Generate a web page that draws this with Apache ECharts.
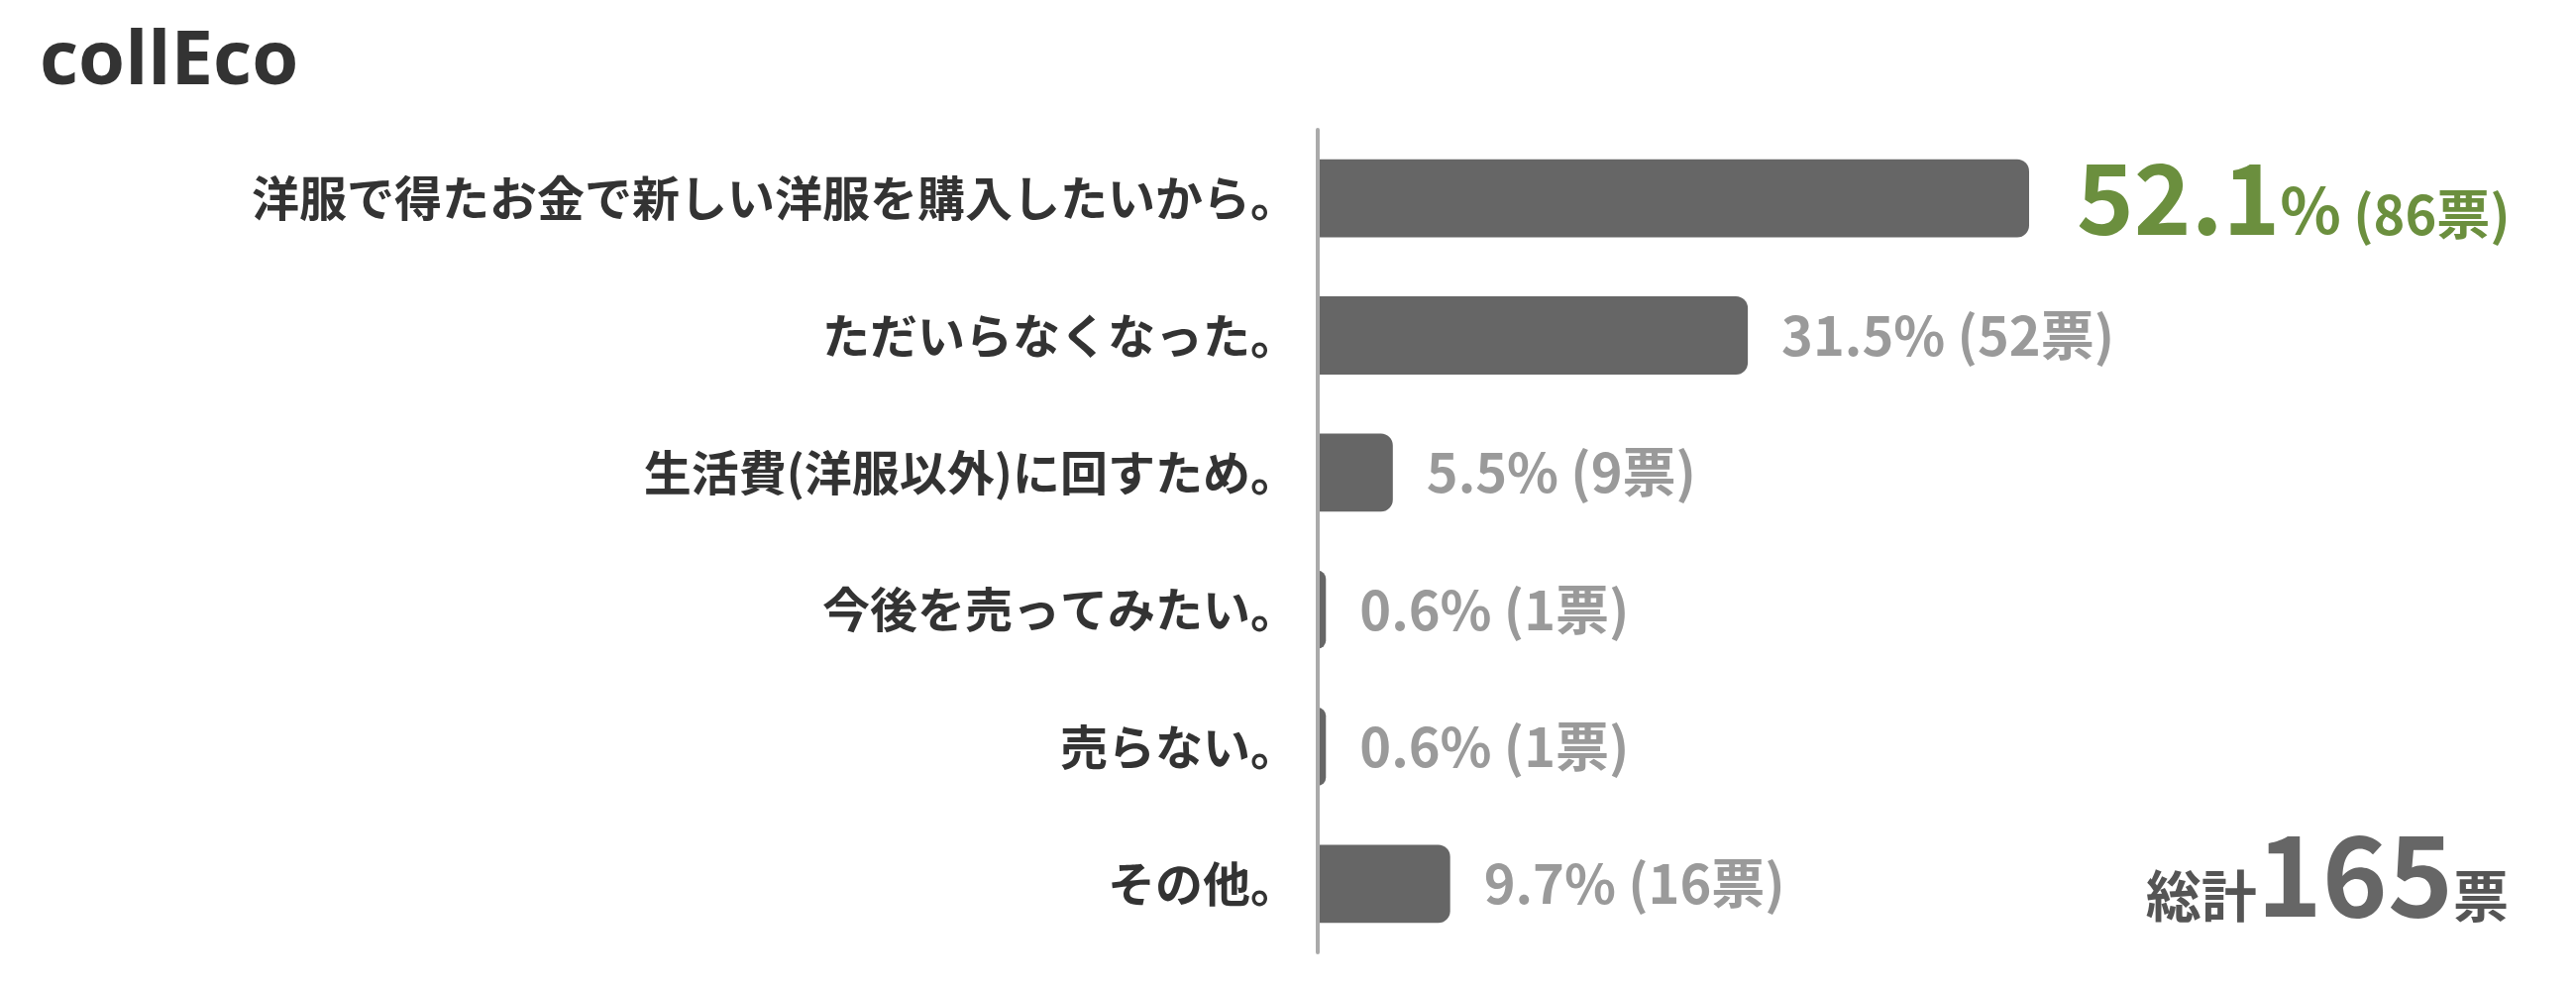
<!DOCTYPE html>
<html>
<head>
<meta charset="utf-8">
<script src="https://cdn.jsdelivr.net/npm/echarts@6/dist/echarts.min.js"></script>
<style>
html,body{margin:0;padding:0;background:#fff;}
#chart{width:2600px;height:1000px;}
</style>
</head>
<body>
<div id="chart"></div>
<script>
const categories = [
  '洋服で得たお金で新しい洋服を購入したいから。',
  'ただいらなくなった。',
  '生活費(洋服以外)に回すため。',
  '今後を売ってみたい。',
  '売らない。',
  'その他。'
];
const percentages = [52.1, 31.5, 5.5, 0.6, 0.6, 9.7];
const votes = [86, 52, 9, 1, 1, 16];
const totalVotes = 165;
const logoText = 'collEco';

const FONT = '"Noto Sans CJK JP", "Noto Sans", sans-serif';
const GREEN = '#6b8f3e';
const GREY = '#9a9a9a';

const chart = echarts.init(document.getElementById('chart'));

const seriesData = percentages.map((v, i) => {
  const item = { value: v };
  if (i === 0) {
    item.label = {
      distance: 48,
      formatter: (p) => '{big|' + percentages[p.dataIndex] + '}{pct|%}{small| (' + votes[p.dataIndex] + '票)}',
      rich: {
        big: { fontSize: 98, fontWeight: 'bold', color: GREEN, fontFamily: FONT, lineHeight: 98, verticalAlign: 'bottom' },
        pct: { fontSize: 64, fontWeight: 'bold', color: GREEN, fontFamily: FONT, lineHeight: 64, verticalAlign: 'bottom', padding: [0, 0, 5, 0] },
        small: { fontSize: 54, fontWeight: 'bold', color: GREEN, fontFamily: FONT, lineHeight: 54, verticalAlign: 'bottom', padding: [0, 0, 6, 0] }
      }
    };
  }
  return item;
});

chart.setOption({
  backgroundColor: '#ffffff',
  animation: false,
  grid: { left: 1330, top: 131, width: 1102.5, height: 830, containLabel: false },
  xAxis: { type: 'value', min: 0, max: 80, show: false },
  yAxis: {
    type: 'category',
    data: categories,
    inverse: true,
    z: 5,
    axisLine: { show: true, lineStyle: { color: '#aaaaaa', width: 4 } },
    axisTick: { show: false },
    splitLine: { show: false },
    axisLabel: {
      margin: 20,
      color: '#333333',
      fontSize: 48,
      fontWeight: 'bold',
      fontFamily: FONT
    }
  },
  series: [{
    type: 'bar',
    data: seriesData,
    barCategoryGap: '43%',
    itemStyle: { color: '#666666', borderRadius: [0, 12, 12, 0] },
    label: {
      show: true,
      position: 'right',
      distance: 34,
      color: GREY,
      fontSize: 54,
      fontWeight: 'bold',
      fontFamily: FONT,
      formatter: (p) => percentages[p.dataIndex] + '% (' + votes[p.dataIndex] + '票)'
    }
  }],
  graphic: [
    {
      type: 'text',
      left: 40,
      top: 25,
      style: {
        text: logoText,
        fontSize: 76,
        fontWeight: 'bold',
        fontFamily: '"Open Sans", sans-serif',
        fill: '#333333'
      }
    },
    {
      type: 'text',
      right: 68,
      top: 826,
      style: {
        text: '{a|総計}{b|' + totalVotes + '}{c|票}',
        rich: {
          a: { fontSize: 56, fontWeight: 'bold', fill: '#555555', color: '#555555', fontFamily: FONT, lineHeight: 56, verticalAlign: 'bottom', padding: [0, 0, 6, 0] },
          b: { fontSize: 112, fontWeight: 'bold', fill: '#666666', color: '#666666', fontFamily: FONT, lineHeight: 112, verticalAlign: 'bottom' },
          c: { fontSize: 56, fontWeight: 'bold', fill: '#555555', color: '#555555', fontFamily: FONT, lineHeight: 56, verticalAlign: 'bottom', padding: [0, 0, 6, 0] }
        }
      }
    }
  ]
});
</script>
</body>
</html>
